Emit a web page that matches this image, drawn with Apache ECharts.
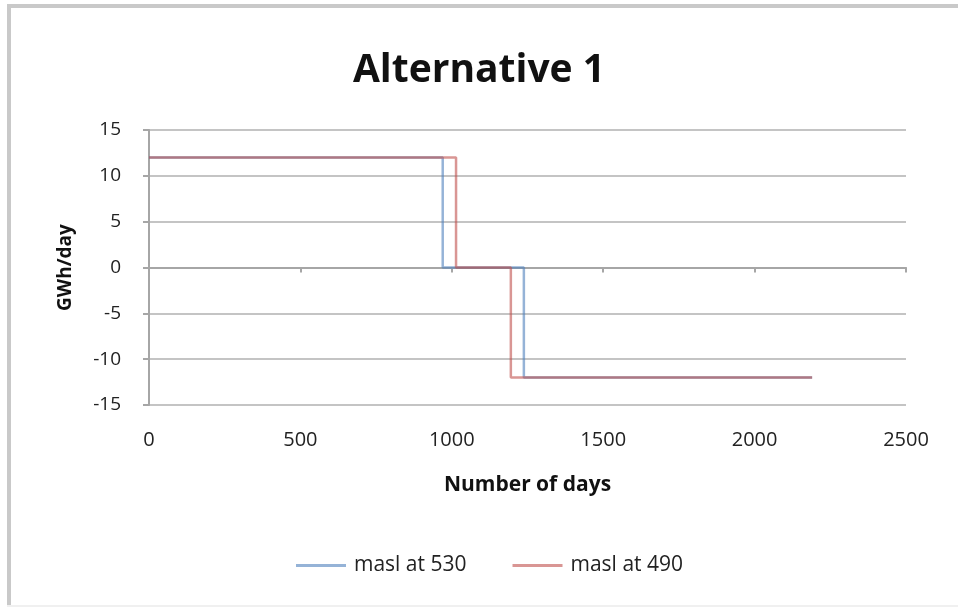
<!DOCTYPE html>
<html>
<head>
<meta charset="utf-8">
<script src="https://cdn.jsdelivr.net/npm/echarts@6/dist/echarts.min.js"></script>
<style>
  html, body { margin: 0; padding: 0; background: #fff; }
  #chart { width: 958px; height: 607px; }
</style>
</head>
<body>
<div id="chart"></div>
<script>
// Production schedule (GWh/day) over time, as step breakpoints [day, value]
var seriesNames = ['masl at 530', 'masl at 490'];
var masl530 = [[0, 12], [970, 12], [970, 0], [1238, 0], [1238, -12], [2190, -12]];
var masl490 = [[0, 12], [1014, 12], [1014, 0], [1195, 0], [1195, -12], [2190, -12]];
var xTicks = { min: 0, max: 2500, step: 500 };
var yTicks = { min: -15, max: 15, step: 5 };

var FONT = '"Open Sans", Lato, sans-serif';
var chart = echarts.init(document.getElementById('chart'));

chart.setOption({
  backgroundColor: '#fff',
  animation: false,
  title: {
    text: 'Alternative 1',
    left: 'center',
    top: 46,
    textStyle: { fontFamily: FONT, fontSize: 39, fontWeight: 'bold', color: '#111' }
  },
  graphic: [
    { type: 'rect', shape: { x: 7, y: 4, width: 951, height: 4 }, style: { fill: '#c9c9c9' } },
    { type: 'rect', shape: { x: 7, y: 4, width: 4, height: 603 }, style: { fill: '#c9c9c9' } },
    { type: 'rect', shape: { x: 7, y: 605, width: 951, height: 2 }, style: { fill: '#f0f0f0' } }
  ],
  legend: {
    bottom: 26,
    left: 291,
    icon: 'rect',
    itemWidth: 50,
    itemHeight: 3,
    itemGap: 46,
    itemStyle: { borderWidth: 0 },
    textStyle: { fontFamily: FONT, fontSize: 21, color: '#222', padding: [0, 0, 0, 3] },
    data: seriesNames
  },
  grid: { left: 149, right: 52, top: 130, bottom: 202, containLabel: false },
  xAxis: [
    {
      type: 'value',
      min: xTicks.min, max: xTicks.max, interval: xTicks.step,
      name: 'Number of days',
      nameLocation: 'middle',
      nameGap: 70,
      nameTextStyle: { fontFamily: FONT, fontSize: 21, fontWeight: 'bold', color: '#111' },
      axisLine: { show: false, onZero: false },
      axisTick: { show: false },
      axisLabel: {
        margin: 25, fontFamily: FONT, fontSize: 20, color: '#222',
        formatter: function (v) { return String(v); }
      },
      splitLine: { show: false }
    },
    {
      type: 'value',
      position: 'bottom',
      min: xTicks.min, max: xTicks.max, interval: xTicks.step,
      axisLine: { show: true, onZero: true, lineStyle: { color: '#a6a6a6', width: 2 } },
      axisTick: { show: true, length: 5, lineStyle: { color: '#a6a6a6', width: 2 } },
      axisLabel: { show: false },
      splitLine: { show: false }
    }
  ],
  yAxis: {
    type: 'value',
    min: yTicks.min, max: yTicks.max, interval: yTicks.step,
    name: 'GWh/day',
    nameLocation: 'middle',
    nameGap: 74,
    nameTextStyle: { fontFamily: FONT, fontSize: 19, fontWeight: 'bold', color: '#111' },
    axisLine: { show: true, onZero: false, lineStyle: { color: '#a6a6a6', width: 2 } },
    axisTick: { show: true, length: 6, lineStyle: { color: '#a6a6a6', width: 2 } },
    axisLabel: {
      margin: 28, fontFamily: FONT, fontSize: 19, color: '#222',
      formatter: function (v) { return String(v); }
    },
    splitLine: { show: true, lineStyle: { color: '#c4c4c4', width: 2 } }
  },
  series: [
    {
      name: seriesNames[0],
      type: 'line',
      xAxisIndex: 0,
      data: masl530,
      showSymbol: false,
      symbol: 'none',
      color: 'rgba(79,129,189,0.6)',
      lineStyle: { color: 'rgba(79,129,189,0.6)', width: 2.5 },
      itemStyle: { color: 'rgba(79,129,189,0.6)' }
    },
    {
      name: seriesNames[1],
      type: 'line',
      xAxisIndex: 0,
      data: masl490,
      showSymbol: false,
      symbol: 'none',
      color: 'rgba(192,80,77,0.6)',
      lineStyle: { color: 'rgba(192,80,77,0.6)', width: 2.5 },
      itemStyle: { color: 'rgba(192,80,77,0.6)' }
    }
  ]
});
</script>
</body>
</html>
